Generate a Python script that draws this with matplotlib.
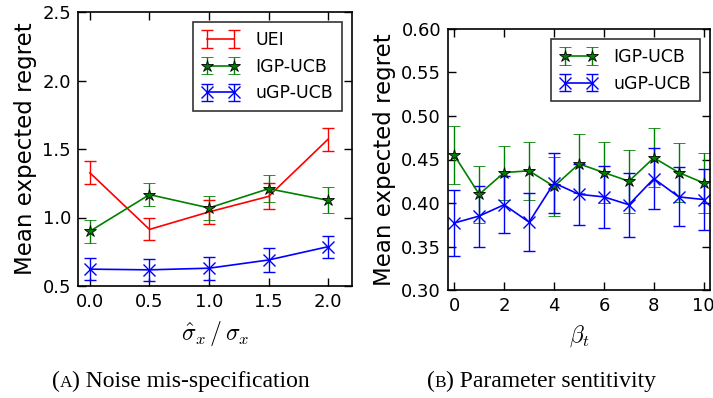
import numpy as np
import matplotlib
matplotlib.use("Agg")
import matplotlib.pyplot as plt

plt.rcParams['mathtext.fontset'] = 'cm'
plt.rcParams['font.family'] = 'DejaVu Sans'

# panel A: noise mis-specification
ratio = [0.0, 0.5, 1.0, 1.5, 2.0]
uei_mean = [1.326, 0.913, 1.041, 1.154, 1.572]
uei_err = [0.085, 0.080, 0.090, 0.095, 0.083]
igp_mean_a = [0.900, 1.167, 1.070, 1.210, 1.125]
igp_err_a = [0.083, 0.086, 0.088, 0.097, 0.095]
ugp_mean_a = [0.623, 0.618, 0.630, 0.690, 0.787]
ugp_err_a = [0.080, 0.080, 0.085, 0.085, 0.080]

# panel B: parameter sensitivity
beta = [0, 1, 2, 3, 4, 5, 6, 7, 8, 9, 10]
igp_mean_b = [0.455, 0.410, 0.435, 0.437, 0.419, 0.445, 0.435, 0.425, 0.452, 0.435, 0.423]
igp_err_b = [0.033, 0.033, 0.031, 0.033, 0.034, 0.034, 0.035, 0.036, 0.034, 0.034, 0.034]
ugp_mean_b = [0.377, 0.385, 0.398, 0.378, 0.423, 0.410, 0.407, 0.398, 0.428, 0.407, 0.404]
ugp_err_b = [0.038, 0.035, 0.033, 0.033, 0.035, 0.035, 0.036, 0.037, 0.035, 0.034, 0.035]

fig = plt.figure(figsize=(7.13, 3.98), dpi=100)
ax1 = fig.add_axes([78/713, 1-286/398, 274/713, 274/398])
ax2 = fig.add_axes([448/713, 1-290/398, 262/713, 261/398])

green = (0, 0.5, 0)
kw = dict(capsize=4, elinewidth=1, capthick=1, lw=1.2)

ax1.errorbar(ratio, uei_mean, yerr=uei_err, color='r', label='UEI', **kw)
ax1.errorbar(ratio, igp_mean_a, yerr=igp_err_a, color=green, marker='*', ms=9,
             mfc=green, mec='k', mew=0.6, label='IGP-UCB', **kw)
ax1.errorbar(ratio, ugp_mean_a, yerr=ugp_err_a, color='b', marker='x', ms=9,
             mew=1.0, label='uGP-UCB', **kw)

ax2.errorbar(beta, igp_mean_b, yerr=igp_err_b, color=green, marker='*', ms=9,
             mfc=green, mec='k', mew=0.6, label='IGP-UCB', **kw)
ax2.errorbar(beta, ugp_mean_b, yerr=ugp_err_b, color='b', marker='x', ms=9,
             mew=1.0, label='uGP-UCB', **kw)

ax1.set_xlim(-0.1, 2.2)
ax1.set_ylim(0.5, 2.5)
ax1.set_xticks([0.0, 0.5, 1.0, 1.5, 2.0])
ax1.set_yticks([0.5, 1.0, 1.5, 2.0, 2.5])
ax1.set_xlabel(r'$\hat{\sigma}_x\,/\,\sigma_x$', fontsize=17, labelpad=6)

ax2.set_xlim(-0.25, 10.25)
ax2.set_ylim(0.30, 0.60)
ax2.set_xticks([0, 2, 4, 6, 8, 10])
ax2.set_yticks([0.30, 0.35, 0.40, 0.45, 0.50, 0.55, 0.60])
ax2.set_xlabel(r'$\beta_t$', fontsize=17, labelpad=6)

for ax in (ax1, ax2):
    ax.set_ylabel('Mean expected regret', fontsize=16.5, labelpad=4)
    ax.tick_params(direction='in', top=True, right=True, labelsize=13,
                   length=6, width=1, pad=5)
    for s in ax.spines.values():
        s.set_linewidth(1.2)
    leg = ax.legend(loc='upper right', fontsize=12.5, fancybox=False,
                    numpoints=2, handlelength=2.2, handletextpad=0.9,
                    borderpad=0.5, borderaxespad=0.6)
    leg.get_frame().set_edgecolor('k')
    leg.get_frame().set_linewidth(1.2)

ax2.yaxis.set_major_formatter(matplotlib.ticker.FormatStrFormatter('%.2f'))


def caption(x0, letter, rest):
    # "(A) ..." with a small-caps letter, pieces chained left to right
    y0 = 1 - 387/398
    t1 = fig.text(x0, y0, '(', family='Liberation Serif', fontsize=17, va='baseline')
    t2 = ax1.annotate(letter, xy=(1, y0), xycoords=(t1, 'figure fraction'),
                      family='Liberation Serif', fontsize=12.5, va='baseline',
                      annotation_clip=False)
    ax1.annotate(') ' + rest, xy=(1, y0), xycoords=(t2, 'figure fraction'),
                 family='Liberation Serif', fontsize=17, va='baseline',
                 annotation_clip=False)


caption(52/713, 'A', 'Noise mis-specification')
caption(427/713, 'B', 'Parameter sentitivity')

fig.savefig('out.png', dpi=100)
